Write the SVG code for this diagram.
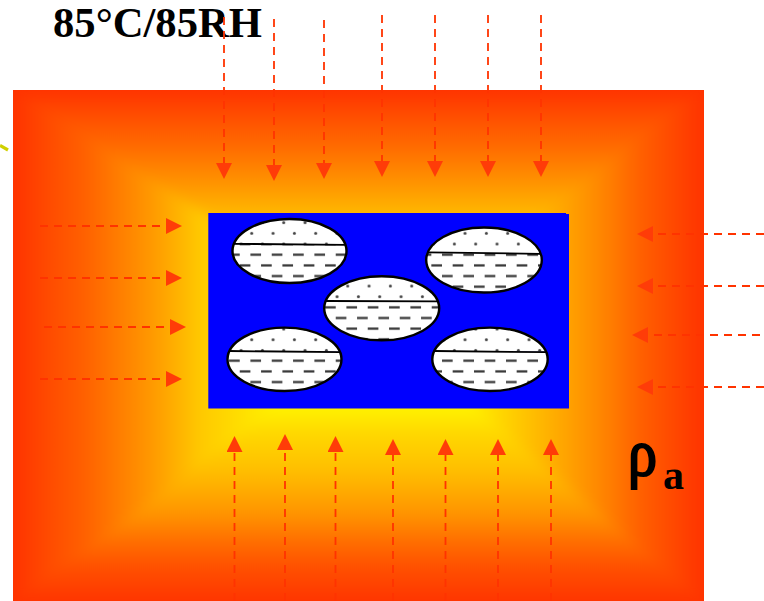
<svg xmlns="http://www.w3.org/2000/svg" width="764" height="601" viewBox="0 0 764 601">
  <style>
    .flow { fill: none; stroke: #ff3300; stroke-width: 1.8; stroke-dasharray: 8 6; marker-end: url(#head); }
    .rim { fill: none; stroke: #000; stroke-width: 2.4; }
    .level { stroke: #000; stroke-width: 1.8; fill: none; }
    .label { font-family: "Liberation Serif", "Times New Roman", serif; font-weight: bold; fill: #000; }
    .wedge { shape-rendering: crispEdges; }
  </style>
  <defs>
    <marker id="head" markerUnits="userSpaceOnUse" markerWidth="17" markerHeight="16" refX="0" refY="8" orient="auto">
      <path d="M0 0 L16 8 L0 16 Z" fill="#ff3c08"/>
    </marker>
    <filter id="soften" filterUnits="userSpaceOnUse" x="-20" y="60" width="760" height="570" color-interpolation-filters="sRGB">
      <feGaussianBlur stdDeviation="6"/>
    </filter>
    <clipPath id="chamberEdge"><rect x="13" y="90" width="691" height="511"/></clipPath>
    <linearGradient id="heatTop" gradientUnits="userSpaceOnUse" x1="0" y1="90" x2="0" y2="330">
      <stop offset="0" stop-color="#ff3300"/><stop offset="0.1" stop-color="#ff4c00"/><stop offset="0.24" stop-color="#ff6c00"/><stop offset="0.375" stop-color="#ff9000"/><stop offset="0.49" stop-color="#ffb000"/><stop offset="0.8" stop-color="#ffff00"/>
    </linearGradient>
    <linearGradient id="heatBottom" gradientUnits="userSpaceOnUse" x1="0" y1="601" x2="0" y2="330">
      <stop offset="0" stop-color="#ff3600"/><stop offset="0.125" stop-color="#ff5000"/><stop offset="0.225" stop-color="#ff7000"/><stop offset="0.31" stop-color="#ff9000"/><stop offset="0.41" stop-color="#ffac00"/><stop offset="0.49" stop-color="#ffc000"/><stop offset="0.62" stop-color="#ffd800"/><stop offset="0.705" stop-color="#fff000"/><stop offset="0.85" stop-color="#ffff00"/>
    </linearGradient>
    <linearGradient id="heatLeft" gradientUnits="userSpaceOnUse" x1="13" y1="0" x2="385" y2="0">
      <stop offset="0" stop-color="#ff3300"/><stop offset="0.1" stop-color="#ff4c00"/><stop offset="0.19" stop-color="#ff6000"/><stop offset="0.28" stop-color="#ff7c00"/><stop offset="0.37" stop-color="#ff9800"/><stop offset="0.46" stop-color="#ffb800"/><stop offset="0.5" stop-color="#ffc800"/><stop offset="0.7" stop-color="#fff000"/><stop offset="0.8" stop-color="#ffff00"/>
    </linearGradient>
    <linearGradient id="heatRight" gradientUnits="userSpaceOnUse" x1="704" y1="0" x2="385" y2="0">
      <stop offset="0" stop-color="#ff3300"/><stop offset="0.2" stop-color="#ff6000"/><stop offset="0.33" stop-color="#ff8800"/><stop offset="0.42" stop-color="#ffa000"/><stop offset="0.8" stop-color="#ffff00"/>
    </linearGradient>
    <pattern id="dots" patternUnits="userSpaceOnUse" width="21.33" height="21.33">
      <rect width="21.33" height="21.33" fill="#fff"/>
      <circle cx="5.33" cy="5.33" r="1.5" fill="#444"/>
      <circle cx="16" cy="16" r="1.5" fill="#444"/>
    </pattern>
    <pattern id="dashes" patternUnits="userSpaceOnUse" width="21.33" height="21.33">
      <rect width="21.33" height="21.33" fill="#fff"/>
      <rect x="0" y="4.23" width="10.67" height="2.2" fill="#333"/>
      <rect x="10.67" y="14.9" width="10.67" height="2.2" fill="#333"/>
    </pattern>
    <pattern id="dots1" href="#dots" patternTransform="translate(246.4 228)"/>
    <pattern id="dashes1" href="#dashes" patternTransform="translate(250.4 249.4)"/>
    <pattern id="dots2" href="#dots" patternTransform="translate(459.7 228)"/>
    <pattern id="dashes2" href="#dashes" patternTransform="translate(442 249.4)"/>
    <pattern id="dots3" href="#dots" patternTransform="translate(342.4 280.7)"/>
    <pattern id="dashes3" href="#dashes" patternTransform="translate(346.4 302)"/>
    <pattern id="dots4" href="#dots" patternTransform="translate(246.4 334.4)"/>
    <pattern id="dashes4" href="#dashes" patternTransform="translate(250.4 355.4)"/>
    <pattern id="dots5" href="#dots" patternTransform="translate(459.7 334.4)"/>
    <pattern id="dashes5" href="#dashes" patternTransform="translate(442 355.4)"/>
    <clipPath id="clip1"><ellipse cx="289.5" cy="251" rx="57" ry="32"/></clipPath>
    <clipPath id="clip2"><ellipse cx="484" cy="260" rx="57.8" ry="32.5"/></clipPath>
    <clipPath id="clip3"><ellipse cx="381.7" cy="308.3" rx="57.5" ry="32"/></clipPath>
    <clipPath id="clip4"><ellipse cx="284.5" cy="359.3" rx="57" ry="31.7"/></clipPath>
    <clipPath id="clip5"><ellipse cx="490" cy="359.3" rx="57.7" ry="31.7"/></clipPath>
  </defs>

  <rect width="764" height="601" fill="#fff"/>

  <!-- heated chamber: four wedges meeting at the hot point, edges kept sharp by the clip -->
  <g id="chamber" clip-path="url(#chamberEdge)">
    <rect x="13" y="90" width="691" height="511" fill="#ff3300"/>
    <g filter="url(#soften)">
      <polygon class="wedge" points="13,90 704,90 385,330" fill="url(#heatTop)"/>
      <polygon class="wedge" points="13,601 704,601 385,330" fill="url(#heatBottom)"/>
      <polygon class="wedge" points="13,90 13,601 385,330" fill="url(#heatLeft)"/>
      <polygon class="wedge" points="704,90 704,601 385,330" fill="url(#heatRight)"/>
    </g>
  </g>

  <path id="edge-mark" d="M0 145.500 L8 150" stroke="#d0d000" stroke-width="3.200" fill="none"/>

  <path id="package" d="M208.300 213 H566 V214 H569 V408.500 H208.300 Z" fill="#0000ff"/>

  <g id="void-1">
    <g clip-path="url(#clip1)">
      <rect x="230" y="217" width="120" height="27" fill="url(#dots1)"/>
      <rect x="230" y="244" width="120" height="42" fill="url(#dashes1)"/>
    </g>
    <ellipse class="rim" cx="289.500" cy="251" rx="57" ry="32"/>
    <path class="level" d="M233 243.800 L345 244.800"/>
  </g>
  <g id="void-2">
    <g clip-path="url(#clip2)">
      <rect x="424" y="225" width="120" height="28" fill="url(#dots2)"/>
      <rect x="424" y="253" width="120" height="42" fill="url(#dashes2)"/>
    </g>
    <ellipse class="rim" cx="484" cy="260" rx="57.800" ry="32.500"/>
    <path class="level" d="M428 252.400 L540 253.800"/>
  </g>
  <g id="void-3">
    <g clip-path="url(#clip3)">
      <rect x="322" y="274" width="120" height="27" fill="url(#dots3)"/>
      <rect x="322" y="301" width="120" height="42" fill="url(#dashes3)"/>
    </g>
    <ellipse class="rim" cx="381.700" cy="308.300" rx="57.500" ry="32"/>
    <path class="level" d="M326 301 L437 301.400"/>
  </g>
  <g id="void-4">
    <g clip-path="url(#clip4)">
      <rect x="224" y="325" width="120" height="26.500" fill="url(#dots4)"/>
      <rect x="224" y="351.500" width="120" height="42" fill="url(#dashes4)"/>
    </g>
    <ellipse class="rim" cx="284.500" cy="359.300" rx="57" ry="31.700"/>
    <path class="level" d="M229 351 L340 352.200"/>
  </g>
  <g id="void-5">
    <g clip-path="url(#clip5)">
      <rect x="430" y="325" width="120" height="26.500" fill="url(#dots5)"/>
      <rect x="430" y="351.500" width="120" height="42" fill="url(#dashes5)"/>
    </g>
    <ellipse class="rim" cx="490" cy="359.300" rx="57.700" ry="31.700"/>
    <path class="level" d="M435 351 L546 352.200"/>
  </g>

  <text id="condition" class="label" x="53" y="36.800" font-size="41.200" textLength="209" lengthAdjust="spacingAndGlyphs">85°C/85RH</text>
  <g id="density">
    <text transform="translate(628 475) scale(0.88 1)" font-family="'Liberation Serif', serif" font-size="66" fill="#000" stroke="#000" stroke-width="2.2">ρ</text>
    <text class="label" x="663" y="489" font-size="42">a</text>
  </g>

  <!-- moisture ingress arrows -->
  <g id="connectors">
    <path class="flow" d="M224 17 V163"/>
    <path class="flow" d="M274 19 V165"/>
    <path class="flow" d="M324 20 V163"/>
    <path class="flow" d="M382 15 V161"/>
    <path class="flow" d="M435 15 V161"/>
    <path class="flow" d="M488 15 V161"/>
    <path class="flow" d="M541 15 V161"/>
    <path class="flow" d="M40 226 H166"/>
    <path class="flow" d="M40 278 H166"/>
    <path class="flow" d="M44 327 H170"/>
    <path class="flow" d="M40 379 H166"/>
    <path class="flow" d="M764 234 H653"/>
    <path class="flow" d="M764 286 H653"/>
    <path class="flow" d="M760 335 H648"/>
    <path class="flow" d="M764 387 H653"/>
    <path class="flow" d="M234.500 601 V452"/>
    <path class="flow" d="M285 601 V450"/>
    <path class="flow" d="M335.500 601 V452"/>
    <path class="flow" d="M393 601 V455"/>
    <path class="flow" d="M445.500 601 V455"/>
    <path class="flow" d="M498 601 V455"/>
    <path class="flow" d="M551 601 V455"/>
  </g>
</svg>
